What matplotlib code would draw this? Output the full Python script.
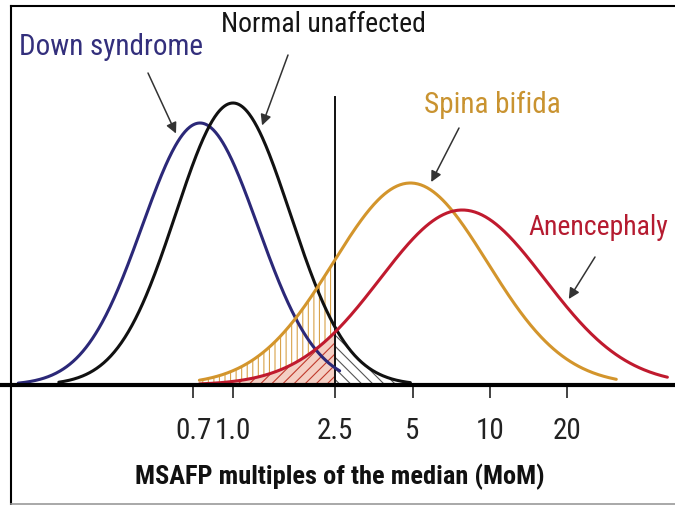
import numpy as np
import matplotlib
matplotlib.use("Agg")
from matplotlib import pyplot as plt
from matplotlib.lines import Line2D

# MSAFP distributions, drawn as log-normal bumps on a MoM (log) axis
groups = ["Down syndrome", "Normal unaffected", "Spina bifida", "Anencephaly"]
medians = [0.744, 1.0, 4.9, 7.8]        # MoM at the peak
log_sds = [0.225, 0.223, 0.30, 0.32]    # spread in decades
peaks = [262, 282, 202, 175]            # peak height (arbitrary units)
x_from = [0.146, 0.21, 0.74, 0.74]      # where each curve leaves the baseline
x_to = [2.6, 4.9, 31, 49]
curve_colors = ["#2b2878", "#111111", "#d3952c", "#c01a2e"]
text_colors = ["#332f7c", "#151515", "#c99330", "#b51b30"]

cutoff = 2.5
tick_vals = [0.7, 1.0, 2.5, 5, 10, 20]
tick_labels = ["0.7", "1.0", "2.5", "5", "10", "20"]
arrow_tip_x = [0.616, 1.27, 5.74, 19.6]

plt.rcParams['font.family'] = ['Roboto Condensed', 'DejaVu Sans']
plt.rcParams['hatch.linewidth'] = 0.8


def curve(x, i):
    z = (np.log10(x) - np.log10(medians[i])) / log_sds[i]
    return peaks[i] * np.exp(-0.5 * z ** 2)


fig = plt.figure(figsize=(6.75, 5.05), dpi=100)
ax = fig.add_axes([0, 0, 1, 1])
ax.set_xscale("log")
ax.set_xlim(10 ** (-233 / 257), 10 ** ((675 - 233) / 257))
ax.set_ylim(-120, 385)

# shaded tails around the 2.5 MoM cutoff
xs = np.geomspace(x_from[2], cutoff, 200)
ax.fill_between(xs, 0, curve(xs, 2), facecolor="white", edgecolor="#d8a24a",
                hatch="|||", linewidth=0, zorder=1)
xs = np.geomspace(x_from[3], cutoff, 200)
ax.fill_between(xs, 0, curve(xs, 3), facecolor="#f4cfc4", edgecolor="#c0392b",
                hatch="///", linewidth=0, zorder=1.1)
xs = np.geomspace(cutoff, x_to[1], 200)
ax.fill_between(xs, 0, curve(xs, 1), facecolor="white", edgecolor="#555555",
                hatch="\\\\\\", linewidth=0, zorder=1.2)

for i in range(len(groups)):
    xs = np.geomspace(x_from[i], x_to[i], 400)
    ax.plot(xs, curve(xs, i), color=curve_colors[i], lw=2.2, zorder=3,
            solid_capstyle="round")

ax.plot([cutoff, cutoff], [0, 288], color="#111111", lw=1.4, zorder=2)

# baseline with ticks
for s in ["top", "right", "left"]:
    ax.spines[s].set_visible(False)
ax.spines["bottom"].set_position(("data", 0))
ax.spines["bottom"].set_linewidth(3)
ax.spines["bottom"].set_zorder(4)
ax.set_yticks([])
ax.set_xticks(tick_vals)
ax.set_xticklabels(tick_labels)
ax.xaxis.set_minor_locator(matplotlib.ticker.NullLocator())
ax.tick_params(axis="x", direction="out", length=9, width=1.2, pad=14,
               labelsize=21, colors="#222222")
ax.set_xlabel("MSAFP multiples of the median (MoM)", fontsize=19,
              fontweight="bold", color="#111111")
ax.xaxis.set_label_coords(340 / 675, 1 - 464 / 505)

# labels and arrows
text_pos = [(19, 55), (221, 32), (424, 113), (528, 235)]
text_size = [21, 20, 21, 20]
tail_pos = [(148, 73), (288, 55), (459, 128), (595, 257)]
for i in range(len(groups)):
    px, py = text_pos[i]
    ax.text(px / 675, 1 - py / 505, groups[i], transform=ax.transAxes,
            ha="left", va="baseline", fontsize=text_size[i], color=text_colors[i])
    tx, ty = tail_pos[i]
    xt = arrow_tip_x[i]
    ax.annotate("", xy=(xt, curve(xt, i)), xycoords="data",
                xytext=(tx / 675, 1 - ty / 505), textcoords="axes fraction",
                arrowprops=dict(arrowstyle="-|>", color="#333333", lw=1.1,
                                mutation_scale=16, shrinkA=0, shrinkB=5))

# frame of the original picture
fig.add_artist(Line2D([11 / 675, 1], [1 - 6 / 505, 1 - 6 / 505],
                      transform=fig.transFigure, color="black", lw=1.5))
fig.add_artist(Line2D([11 / 675, 11 / 675], [0, 1 - 6 / 505],
                      transform=fig.transFigure, color="black", lw=1.5))
fig.add_artist(Line2D([11 / 675, 1], [1 / 505, 1 / 505],
                      transform=fig.transFigure, color="#999999", lw=1.2))

fig.savefig("out.png", dpi=100)
